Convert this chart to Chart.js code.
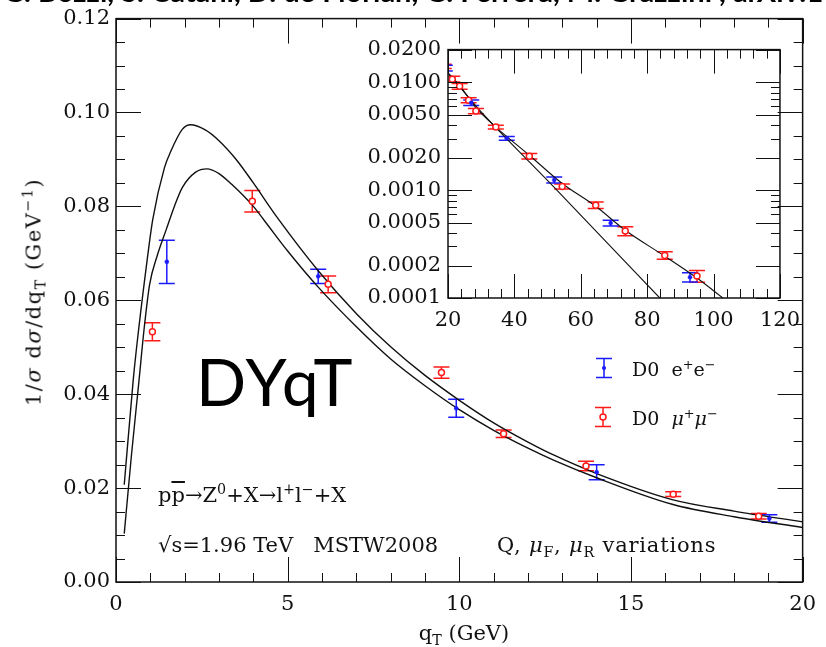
<!DOCTYPE html>
<html>
<head>
<meta charset="utf-8">
<script src="https://cdn.jsdelivr.net/npm/chart.js@4.4.1/dist/chart.umd.min.js"></script>
<style>
  html, body { margin: 0; padding: 0; background: #fff; }
  #wrap { position: relative; width: 826px; height: 647px; overflow: hidden; font-family: "DejaVu Serif", serif; color: #111; }
  #main { position: absolute; left: 0; top: 0; }
  #inset { position: absolute; left: 340px; top: 30px; }
  .t { position: absolute; white-space: nowrap; font-size: 21px; line-height: 1; }
  .lg { font-size: 19px; }
  .t sub, .t sup, #ytitle sub, #ytitle sup { font-size: 0.68em; line-height: 0; }
  #head { position: absolute; left: 3px; top: -27px; font: bold 29px "Lato", sans-serif; white-space: nowrap; color: #000; }
  #dyqt { position: absolute; left: 196px; top: 348px; font: 66px "Lato", sans-serif; letter-spacing: 2px; color: #000; line-height: 1; }
  #ytitle { position: absolute; left: 34px; top: 292px; transform: translate(-50%, -50%) rotate(-90deg); white-space: nowrap; font-size: 21px; letter-spacing: 1.5px; line-height: 1; }
  .over { text-decoration: overline; }
</style>
</head>
<body>
<div id="wrap">
  <canvas id="main" width="826" height="647"></canvas>
  <canvas id="inset" width="470" height="310"></canvas>
  <div id="head">G. Bozzi, S. Catani, D. de Florian, G. Ferrera, M. Grazzini , arXiv:1007.2351</div>
  <div id="dyqt">DYqT</div>
  <div class="t" style="left:158px; top:485px;">p<span class="over">p</span>&#8594;Z<sup>0</sup>+X&#8594;l<sup>+</sup>l<sup>&#8722;</sup>+X</div>
  <div class="t" style="left:158px; top:535px;">&#8730;s=1.96 TeV&nbsp;&nbsp;&nbsp;MSTW2008</div>
  <div class="t" style="left:497px; top:535px; letter-spacing:0.8px;">Q, <i>&#956;</i><sub>F</sub>, <i>&#956;</i><sub>R</sub> variations</div>
  <div class="t lg" style="left:632px; top:360px;">D0&nbsp;&nbsp;e<sup>+</sup>e<sup>&#8722;</sup></div>
  <div class="t lg" style="left:632px; top:409px;">D0&nbsp;&nbsp;<i>&#956;</i><sup>+</sup><i>&#956;</i><sup>&#8722;</sup></div>
  <div class="t" style="left:464px; top:623px; transform:translateX(-50%);">q<sub>T</sub> (GeV)</div>
  <div id="ytitle">1/<i>&#963;</i> d<i>&#963;</i>/dq<sub>T</sub> (GeV<sup>&#8722;1</sup>)</div>
</div>
<script>
// Resummed prediction band edges, q_T (GeV) vs 1/sigma dsigma/dq_T
const curveUpperQ = [0.24, 0.50, 0.59, 0.88, 1.07, 1.41, 1.60, 1.93, 2.17, 2.60, 3.00, 3.50, 4.00, 4.71, 5.89, 7.01, 8.0, 9.0, 10.0, 11.0, 12.0, 12.76, 14.0, 16.2, 18.0, 20.0];
const curveUpperY = [0.0207, 0.0429, 0.0493, 0.0670, 0.0772, 0.0882, 0.0918, 0.0964, 0.0974, 0.0963, 0.0940, 0.0900, 0.0850, 0.0775, 0.0663, 0.0571, 0.0501, 0.0440, 0.0387, 0.0339, 0.0298, 0.0270, 0.0231, 0.01756, 0.0151, 0.0128];
const curveLowerQ = [0.24, 0.45, 0.67, 0.82, 0.98, 1.20, 1.46, 1.70, 1.93, 2.32, 2.65, 3.00, 3.37, 4.00, 4.33, 5.00, 5.89, 7.01, 8.0, 9.0, 10.0, 11.0, 12.0, 12.76, 14.0, 16.2, 18.0, 20.0];
const curveLowerY = [0.0103, 0.0270, 0.0429, 0.0540, 0.0634, 0.0695, 0.0750, 0.0800, 0.0840, 0.0873, 0.0880, 0.0870, 0.0847, 0.0800, 0.0769, 0.0705, 0.0628, 0.0543, 0.0475, 0.0418, 0.0367, 0.0323, 0.0285, 0.0259, 0.0222, 0.01656, 0.0139, 0.0116];

// High-q_T tail curves (log scale panel)
const tailUpperQ = [20, 23.7, 28.4, 34.4, 44.5, 54.4, 64.5, 73.4, 85.3, 95.0, 102.8];
const tailUpperY = [0.0122, 0.00914, 0.0058, 0.00383, 0.00210, 0.00115, 0.000707, 0.000424, 0.000244, 0.000153, 0.0001];
const tailLowerQ = [20, 25, 30, 52, 83.8];
const tailLowerY = [0.0121, 0.0080, 0.0053, 0.00106, 0.0001];

// D0 mu+mu- measurements
const muQ   = [1.06, 3.97, 6.18, 9.48, 11.29, 13.69, 16.23, 18.72, 21.3, 23.5, 26.2, 28.4, 34.4, 44.5, 54.4, 64.5, 73.4, 85.3, 95.0];
const muY   = [0.0533, 0.0811, 0.0634, 0.0446, 0.0316, 0.0247, 0.0187, 0.0140, 0.01065, 0.00914, 0.0068, 0.0054, 0.00383, 0.00206, 0.00108, 0.000725, 0.000417, 0.000248, 0.00016];
const muErr = [0.0019, 0.0023, 0.0018, 0.0012, 0.0008, 0.0010, 0.0005, 0.0006, 0.00065, 0.00055, 0.00035, 0.0003, 0.00015, 0.00012, 0.00006, 0.00005, 0.00004, 0.00002, 0.00002];

// D0 e+e- measurements
const eeQ   = [1.48, 5.89, 9.91, 14.0, 19.03, 27.0, 37.7, 52.0, 69.0, 92.9];
const eeY   = [0.0682, 0.0651, 0.0370, 0.0234, 0.0135, 0.00644, 0.00302, 0.00124, 0.000494, 0.000156];
const eeErr = [0.0046, 0.0015, 0.0019, 0.0016, 0.0008, 0.00037, 0.00012, 0.00008, 0.00003, 0.000015];

// Axis ticks
const mainXTicks = [0, 5, 10, 15, 20];
const mainYTicks = [0, 0.02, 0.04, 0.06, 0.08, 0.10, 0.12];
const insetXTicks = [20, 40, 60, 80, 100, 120];
const insetYTicks = [0.0001, 0.0002, 0.0005, 0.001, 0.002, 0.005, 0.01, 0.02];

const RED = '#ff1a1a';
const BLUE = '#1a1aff';
const LABEL_FONT = { family: 'DejaVu Serif', size: 21 };

const pts = (xs, ys) => xs.map((v, i) => ({ x: v, y: ys[i] }));

// Vertical error bars with caps, drawn beneath the markers
const errorBars = {
  id: 'errorBars',
  beforeDatasetsDraw(chart) {
    const { ctx, chartArea: a, scales: { x, y } } = chart;
    ctx.save();
    ctx.beginPath();
    ctx.rect(a.left, a.top, a.right - a.left, a.bottom - a.top);
    ctx.clip();
    chart.data.datasets.forEach(ds => {
      if (!ds.errors) return;
      ctx.strokeStyle = ds.borderColor;
      ctx.lineWidth = 1.5;
      ds.data.forEach((p, j) => {
        const e = ds.errors[j];
        const px = x.getPixelForValue(p.x);
        const lo = Math.max(p.y - e, y.min * 0.5);
        const y1 = y.getPixelForValue(lo);
        const y2 = y.getPixelForValue(p.y + e);
        const c = 8;
        ctx.beginPath();
        ctx.moveTo(px, y1); ctx.lineTo(px, y2);
        ctx.moveTo(px - c, y1); ctx.lineTo(px + c, y1);
        ctx.moveTo(px - c, y2); ctx.lineTo(px + c, y2);
        ctx.stroke();
      });
    });
    ctx.restore();
  }
};

// Box frame with inward major/minor ticks on all four sides
const frameTicks = {
  id: 'frameTicks',
  afterDraw(chart, args, o) {
    const { ctx, chartArea: a, scales: { x, y } } = chart;
    ctx.save();
    ctx.strokeStyle = '#111';
    const xs = [];
    for (let v = x.min; v <= x.max + 1e-9; v += o.xMinor) {
      const r = v / o.xMajor;
      xs.push({ v, major: Math.abs(r - Math.round(r)) < 1e-6 });
    }
    const ys = [];
    if (o.log) {
      for (let k = Math.floor(Math.log10(y.min)); k <= Math.ceil(Math.log10(y.max)); k++) {
        for (let m = 1; m <= 9; m++) {
          const v = m * Math.pow(10, k);
          if (v < y.min * 0.999 || v > y.max * 1.001) continue;
          ys.push({ v, major: m === 1 || m === 2 || m === 5 });
        }
      }
    } else {
      for (let v = y.min; v <= y.max + 1e-9; v += o.yMinor) {
        const r = v / o.yMajor;
        ys.push({ v, major: Math.abs(r - Math.round(r)) < 1e-6 });
      }
    }
    ctx.lineWidth = 1;
    ctx.beginPath();
    xs.forEach(t => {
      const px = Math.round(x.getPixelForValue(t.v)) + 0.5;
      const L = t.major ? o.majorLen : o.minorLen;
      ctx.moveTo(px, a.bottom); ctx.lineTo(px, a.bottom - L);
      ctx.moveTo(px, a.top); ctx.lineTo(px, a.top + L);
    });
    ys.forEach(t => {
      const py = Math.round(y.getPixelForValue(t.v)) + 0.5;
      const L = t.major ? o.majorLen : o.minorLen;
      ctx.moveTo(a.left, py); ctx.lineTo(a.left + L, py);
      ctx.moveTo(a.right, py); ctx.lineTo(a.right - L, py);
    });
    ctx.stroke();
    ctx.lineWidth = o.frameWidth;
    ctx.strokeRect(a.left, a.top, a.right - a.left, a.bottom - a.top);
    ctx.restore();
  }
};

// Legend markers with error-bar glyphs
const legendGlyphs = {
  id: 'legendGlyphs',
  afterDraw(chart, args, o) {
    if (!o.items) return;
    const { ctx } = chart;
    ctx.save();
    o.items.forEach(it => {
      ctx.strokeStyle = it.color;
      ctx.lineWidth = 1.5;
      ctx.beginPath();
      ctx.moveTo(it.x, it.y - 9.5); ctx.lineTo(it.x, it.y + 9.5);
      ctx.moveTo(it.x - 8, it.y - 9.5); ctx.lineTo(it.x + 8, it.y - 9.5);
      ctx.moveTo(it.x - 8, it.y + 9.5); ctx.lineTo(it.x + 8, it.y + 9.5);
      ctx.stroke();
      ctx.beginPath();
      ctx.arc(it.x, it.y, it.r, 0, Math.PI * 2);
      if (it.open) { ctx.fillStyle = '#fff'; ctx.fill(); ctx.stroke(); }
      else { ctx.fillStyle = it.color; ctx.fill(); }
    });
    ctx.restore();
  }
};

function curve(xs, ys, w) {
  return {
    type: 'line', data: pts(xs, ys), borderColor: '#111', borderWidth: w,
    pointRadius: 0, fill: false, cubicInterpolationMode: 'monotone', clip: 0, order: 3
  };
}
function measurements(xs, ys, errs, color, open, order) {
  return {
    type: 'scatter', data: pts(xs, ys), errors: errs,
    borderColor: color, backgroundColor: open ? '#fff' : color,
    pointRadius: open ? 3 : 2, pointBorderWidth: open ? 1.5 : 0.5,
    pointStyle: 'circle', clip: 0, order
  };
}

const common = {
  responsive: false, animation: false, events: [],
  plugins: { legend: { display: false }, tooltip: { enabled: false } }
};

new Chart(document.getElementById('main'), {
  data: {
    datasets: [
      curve(curveUpperQ, curveUpperY, 1.4),
      curve(curveLowerQ, curveLowerY, 1.4),
      measurements(muQ, muY, muErr, RED, true, 2),
      measurements(eeQ, eeY, eeErr, BLUE, false, 1)
    ]
  },
  options: {
    ...common,
    layout: { padding: { left: 0, top: 17, right: 14, bottom: 0 } },
    scales: {
      x: {
        type: 'linear', min: 0, max: 20,
        grid: { display: false, drawTicks: false }, border: { display: false },
        afterBuildTicks: s => { s.ticks = mainXTicks.map(v => ({ value: v })); },
        afterFit: s => { s.height = 65; },
        ticks: { font: LABEL_FONT, color: '#111', padding: 10, maxRotation: 0, callback: v => String(v) }
      },
      y: {
        type: 'linear', min: 0, max: 0.12,
        grid: { display: false, drawTicks: false }, border: { display: false },
        afterBuildTicks: s => { s.ticks = mainYTicks.map(v => ({ value: v })); },
        afterFit: s => { s.width = 116; },
        ticks: { font: LABEL_FONT, color: '#111', padding: 6, callback: v => Number(v).toFixed(2) }
      }
    },
    plugins: {
      ...common.plugins,
      frameTicks: { xMajor: 5, xMinor: 1, yMajor: 0.02, yMinor: 0.005, majorLen: 25, minorLen: 9, frameWidth: 1.5 },
      legendGlyphs: { items: [
        { x: 604, y: 368, color: BLUE, r: 2, open: false },
        { x: 603, y: 417, color: RED, r: 3, open: true }
      ] }
    }
  },
  plugins: [errorBars, frameTicks, legendGlyphs]
});

new Chart(document.getElementById('inset'), {
  data: {
    datasets: [
      curve(tailUpperQ, tailUpperY, 1.1),
      curve(tailLowerQ, tailLowerY, 1.1),
      measurements(muQ, muY, muErr, RED, true, 2),
      measurements(eeQ, eeY, eeErr, BLUE, false, 1)
    ]
  },
  options: {
    ...common,
    layout: { padding: { left: 0, top: 16, right: 29, bottom: 0 } },
    scales: {
      x: {
        type: 'linear', min: 20, max: 120,
        grid: { display: false, drawTicks: false }, border: { display: false },
        afterBuildTicks: s => { s.ticks = insetXTicks.map(v => ({ value: v })); },
        afterFit: s => { s.height = 42; },
        ticks: { font: LABEL_FONT, color: '#111', padding: 10, maxRotation: 0, callback: v => String(v) }
      },
      y: {
        type: 'logarithmic', min: 0.0001, max: 0.02,
        grid: { display: false, drawTicks: false }, border: { display: false },
        afterBuildTicks: s => { s.ticks = insetYTicks.map(v => ({ value: v })); },
        afterFit: s => { s.width = 108; },
        ticks: { font: LABEL_FONT, color: '#111', padding: 7, callback: v => Number(v).toFixed(4) }
      }
    },
    plugins: {
      ...common.plugins,
      frameTicks: { log: true, xMajor: 20, xMinor: 4, majorLen: 24, minorLen: 9, frameWidth: 1.5 }
    }
  },
  plugins: [errorBars, frameTicks]
});
</script>
</body>
</html>
